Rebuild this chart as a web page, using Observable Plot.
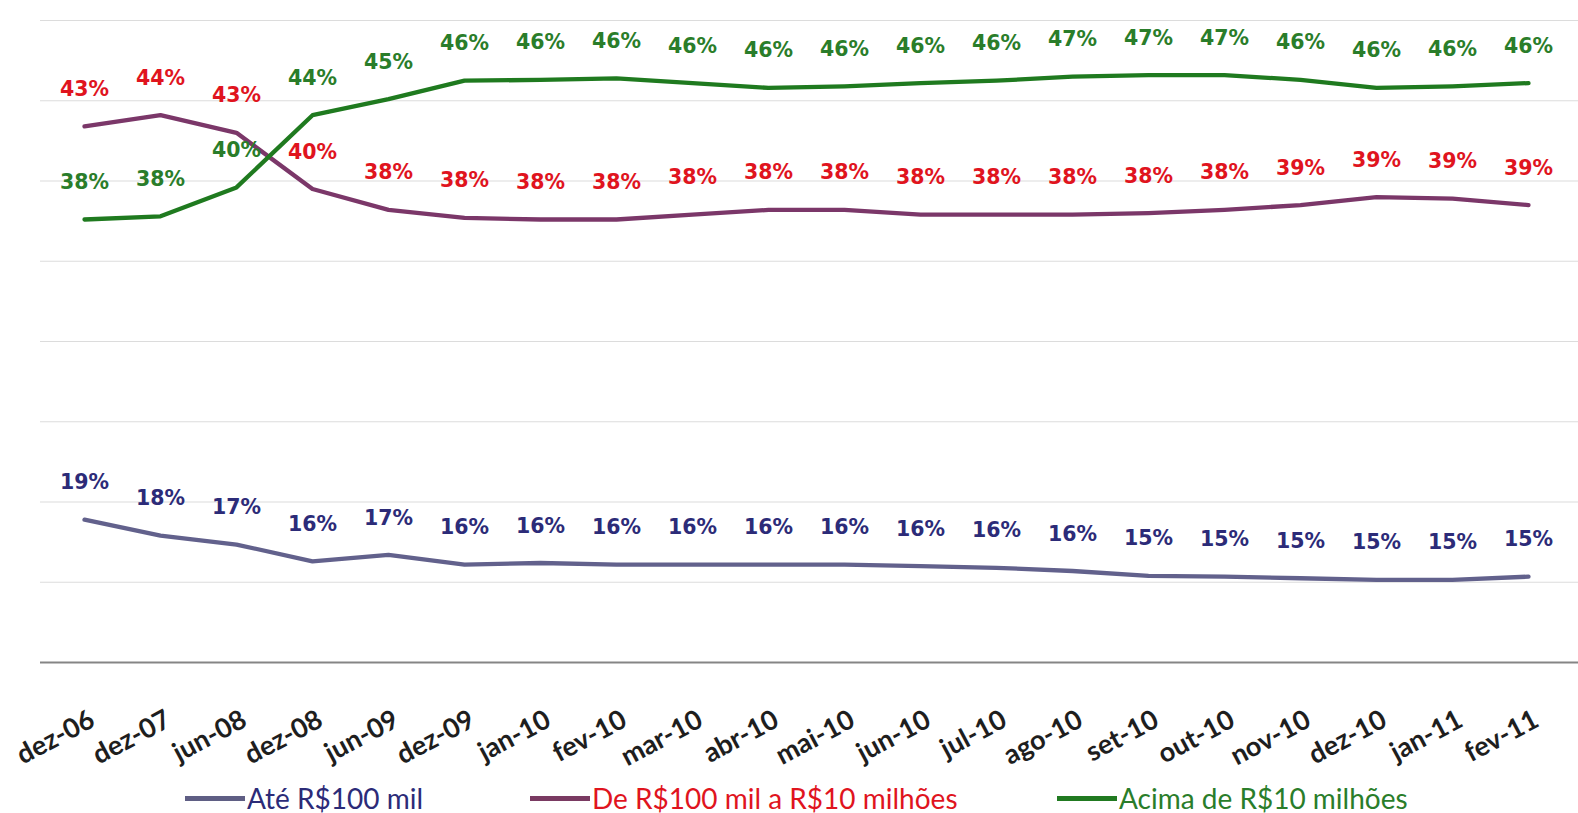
<!DOCTYPE html>
<html>
<head>
<meta charset="utf-8">
<script src="https://cdn.jsdelivr.net/npm/d3@7"></script>
<script src="https://cdn.jsdelivr.net/npm/@observablehq/plot@0.6"></script>
<style>
  html, body { margin: 0; padding: 0; background: #ffffff; }
  #chart { width: 1578px; }
  #legend { position: relative; width: 1578px; height: 53px; font-family: Lato, "Open Sans", sans-serif; }
  .item { position: absolute; top: 23px; display: flex; align-items: center; font-size: 28px; line-height: 30px; white-space: nowrap; }
  .sw { display: inline-block; width: 60px; height: 5px; margin-right: 2px; }
</style>
</head>
<body>
<div id="chart"></div>
<div id="legend"></div>
<script>
const categories = ["dez-06","dez-07","jun-08","dez-08","jun-09","dez-09","jan-10","fev-10","mar-10","abr-10","mai-10","jun-10","jul-10","ago-10","set-10","out-10","nov-10","dez-10","jan-11","fev-11"];
const seriesNames = ["Até R$100 mil", "De R$100 mil a R$10 milhões", "Acima de R$10 milhões"];
const ate   = [18.9, 17.9, 17.35, 16.3, 16.7, 16.1, 16.2, 16.1, 16.1, 16.1, 16.1, 16.0, 15.9, 15.7, 15.4, 15.35, 15.25, 15.15, 15.15, 15.35];
const de    = [43.4, 44.1, 43.0, 39.5, 38.2, 37.7, 37.6, 37.6, 37.9, 38.2, 38.2, 37.9, 37.9, 37.9, 38.0, 38.2, 38.5, 39.0, 38.9, 38.5];
const acima = [37.6, 37.8, 39.6, 44.1, 45.1, 46.25, 46.3, 46.4, 46.1, 45.8, 45.9, 46.1, 46.25, 46.5, 46.6, 46.6, 46.3, 45.8, 45.9, 46.1];
const gridValues = [15, 20, 25, 30, 35, 40, 45, 50];
const axisValue = 10;
const tickLabelValue = 6.55;

const lineColors  = ["#62618c", "#7b3769", "#1f7a1f"];
const labelColors = ["#2c2b78", "#e0141e", "#2a7d2a"];
const swatchColors = ["#5f5e84", "#7a3a62", "#217a21"];

const seriesValues = [ate, de, acima];
const data = [];
seriesValues.forEach((vals, s) => {
  vals.forEach((v, i) => data.push({series: seriesNames[s], idx: s, cat: categories[i], value: v}));
});

const plot = Plot.plot({
  width: 1578,
  height: 760,
  marginTop: 20,
  marginBottom: 98,
  marginLeft: 40,
  marginRight: 0,
  style: {background: "#ffffff", overflow: "visible"},
  x: {type: "point", domain: categories, range: [80.2, 1532], padding: 0, axis: null},
  y: {domain: [10, 50], axis: null},
  color: {domain: seriesNames, range: lineColors},
  marks: [
    Plot.ruleY(gridValues, {stroke: "#dcdcdc", strokeWidth: 1.2}),
    Plot.ruleY([axisValue], {stroke: "#858585", strokeWidth: 2}),
    Plot.lineY(data, {x: "cat", y: "value", z: "series", stroke: "series", strokeWidth: 4.3}),
    Plot.text(data, {
      x: "cat", y: "value", dy: -37,
      text: d => Math.round(d.value) + "%",
      fill: d => labelColors[d.idx],
      fontSize: 20.5,
      fontWeight: "bold",
      fontFamily: "DejaVu Sans, Verdana, sans-serif"
    }),
    Plot.text(categories, {
      x: d => d,
      y: tickLabelValue,
      text: d => d,
      rotate: -28,
      textAnchor: "end",
      lineAnchor: "middle",
      dx: 8,
      fontSize: 27,
      fontWeight: "bold",
      fontFamily: "Lato, sans-serif",
      fill: "#1e1e1e",
      clip: false
    })
  ]
});
document.getElementById("chart").appendChild(plot);

const lefts = [185, 530, 1057];
const legend = document.getElementById("legend");
seriesNames.forEach((name, i) => {
  const item = document.createElement("div");
  item.className = "item";
  item.style.left = lefts[i] + "px";
  item.style.color = labelColors[i];
  const sw = document.createElement("span");
  sw.className = "sw";
  sw.style.background = swatchColors[i];
  const t = document.createElement("span");
  t.textContent = name;
  item.appendChild(sw);
  item.appendChild(t);
  legend.appendChild(item);
});
</script>
</body>
</html>
